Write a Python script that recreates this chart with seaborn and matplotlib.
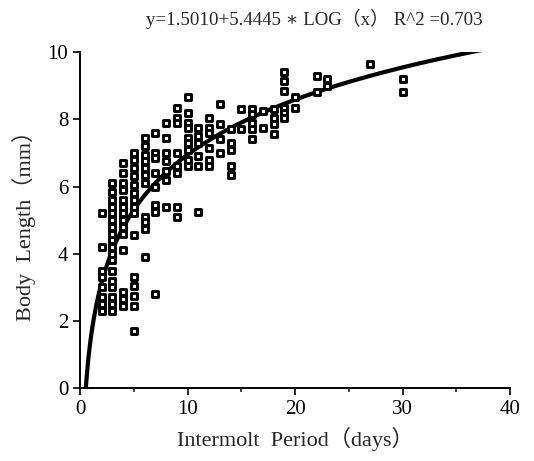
import numpy as np
import pandas as pd
import matplotlib
matplotlib.use("Agg")
import matplotlib.pyplot as plt
import seaborn as sns

# ---- data ----
d2 = [5.2, 4.2, 3.5, 3.3, 3.0, 2.7, 2.5, 2.3]
d3 = [6.1, 5.85, 5.6, 5.4, 5.2, 5.0, 4.8, 4.6, 4.4, 4.2, 4.0, 3.8, 3.5, 3.2, 3.0, 2.7, 2.5, 2.3]
d4 = [6.7, 6.4, 6.1, 5.9, 5.6, 5.4, 5.2, 5.0, 4.8, 4.6, 4.1, 2.85, 2.65, 2.45]
d5 = [7.0, 6.8, 6.55, 6.3, 6.05, 5.8, 5.6, 5.4, 5.2, 4.55, 3.3, 3.05, 2.75, 2.45, 1.7]
d6 = [7.45, 7.2, 6.95, 6.75, 6.55, 6.35, 6.1, 5.1, 4.95, 4.75, 3.9]
d7 = [7.6, 7.0, 6.85, 6.4, 6.0, 5.45, 5.25, 2.8]
d8 = [7.9, 7.45, 7.0, 6.75, 6.45, 6.2, 5.4]
d9 = [8.35, 8.05, 7.9, 7.0, 6.6, 6.4, 5.4, 5.1]
d10 = [8.65, 8.2, 7.9, 7.75, 7.45, 7.3, 7.1, 6.8, 6.6]
d11 = [7.75, 7.5, 7.3, 6.9, 6.6, 5.25]
d12 = [8.05, 7.75, 7.6, 7.15, 6.8, 6.6]
d13 = [8.45, 7.85, 7.4, 7.0]
d14 = [7.7, 7.3, 7.1, 6.6, 6.35]
d15 = [8.3, 7.7]
d16 = [8.3, 8.15, 7.9, 7.7, 7.4]
d17 = [8.25, 7.75]
d18 = [8.3, 8.05, 7.85, 7.55]
d19 = [9.4, 9.15, 8.85, 8.35, 8.2, 8.05]
d20 = [8.65, 8.35]
d22 = [9.3, 8.8]
d23 = [9.2, 9.0]
d27 = [9.65]
d30 = [9.2, 8.8]

day_values = [2, 3, 4, 5, 6, 7, 8, 9, 10, 11, 12, 13, 14, 15, 16, 17, 18, 19, 20, 22, 23, 27, 30]
groups = [d2, d3, d4, d5, d6, d7, d8, d9, d10, d11, d12, d13, d14, d15, d16, d17, d18, d19, d20, d22, d23, d27, d30]

intercept = 1.5010
slope = 5.4445
r2 = 0.703

xticks = [0, 10, 20, 30, 40]
yticks = [0, 2, 4, 6, 8, 10]

days = []
lengths = []
for d, g in zip(day_values, groups):
    days += [d] * len(g)
    lengths += g
df = pd.DataFrame({"days": days, "length": lengths})

x0 = 10 ** (-intercept / slope)
xc = np.linspace(x0, 37.3, 300)
curve = pd.DataFrame({"x": xc, "y": intercept + slope * np.log10(xc)})

# ---- plot ----
sns.set_theme(style="ticks")
fam = ["Liberation Serif", "Noto Sans CJK JP", "DejaVu Serif"]
plt.rcParams["font.family"] = fam

fig = plt.figure(figsize=(5.34, 4.61), dpi=100)
ax = fig.add_axes([0.150, 0.158, 0.805, 0.729])

sns.lineplot(data=curve, x="x", y="y", ax=ax, color="black", linewidth=3.0, zorder=3)
sns.scatterplot(data=df, x="days", y="length", ax=ax, marker="s", s=22,
                facecolor="white", edgecolor="black", linewidth=2.1, zorder=4)

ax.set_xlim(0, 40)
ax.set_ylim(0, 10)
ax.set_xticks(xticks)
ax.set_yticks(yticks)
ax.set_xticks([5, 15, 25, 35], minor=True)
ax.tick_params(axis="both", which="major", direction="out", length=5, width=1.2,
               labelsize=15, colors="black")
ax.tick_params(axis="x", which="minor", direction="out", length=3, width=1.2)
sns.despine(ax=ax)
for s in ["left", "bottom"]:
    ax.spines[s].set_linewidth(1.4)
    ax.spines[s].set_color("black")

ax.set_xlabel("Intermolt  Period（days）", fontsize=16, labelpad=6)
ax.set_ylabel("Body  Length（mm）", fontsize=16, labelpad=8)
title = f"y={intercept:.4f}+{slope:.4f} ∗ LOG（x） R^2 ={r2:.3f}"
fig.text(0.588, 0.958, title, ha="center", va="center", fontsize=13.6, family=fam)

fig.savefig("out.png", dpi=100)
